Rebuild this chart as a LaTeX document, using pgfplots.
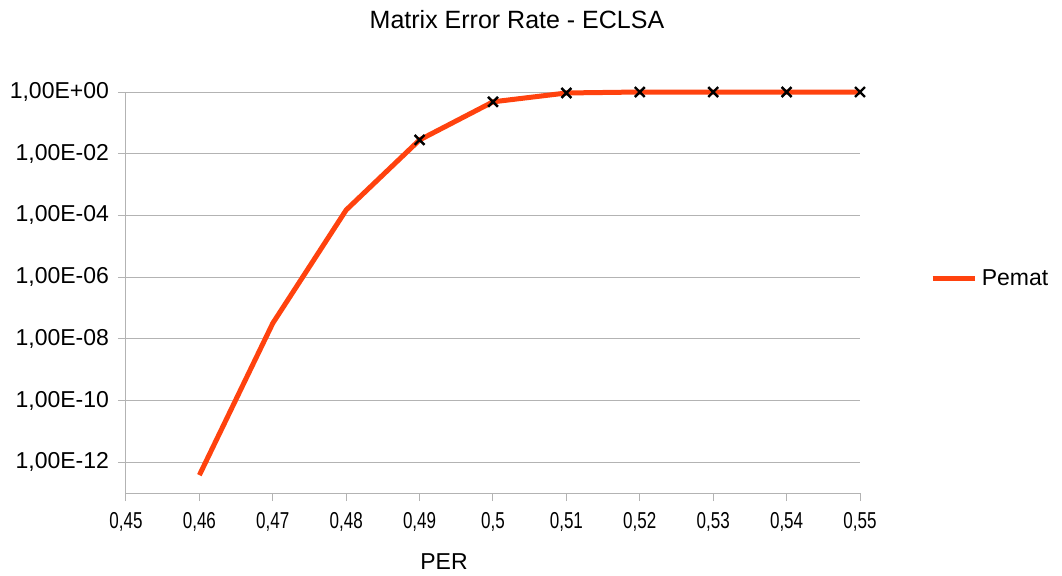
\documentclass[border=0pt]{standalone}
\usepackage{pgfplots}
\pgfplotsset{compat=1.18}
\usepackage{graphicx}
\usepackage{fontspec}
\setmainfont{Liberation Sans}
\definecolor{lineor}{HTML}{FF420E}
\definecolor{gridc}{HTML}{B3B3B3}
\begin{document}
\begin{tikzpicture}[x=0.5pt,y=0.5pt]
\useasboundingbox (0,0) rectangle (1062,575);
\begin{axis}[
  at={(126*0.5pt,82*0.5pt)}, anchor=south west,
  scale only axis, width=734*0.5pt, height=401*0.5pt,
  ymode=log, xmin=0.45, xmax=0.55, ymin=1e-13, ymax=1,
  axis lines*=left,
  axis line style={gridc, line width=0.5pt},
  every tick/.style={gridc, line width=0.5pt},
  tick align=outside, major tick length=4pt,
  minor tick num=0, log basis y=10,
  ytick={1e-12,1e-10,1e-8,1e-6,1e-4,1e-2,1},
  yticklabels={{1,00E-12},{1,00E-10},{1,00E-08},{1,00E-06},{1,00E-04},{1,00E-02},{1,00E+00}},
  xtick={0.45,0.46,0.47,0.48,0.49,0.5,0.51,0.52,0.53,0.54,0.55},
  xticklabels={{\scalebox{0.74}[1]{0,45}},{\scalebox{0.74}[1]{0,46}},{\scalebox{0.74}[1]{0,47}},{\scalebox{0.74}[1]{0,48}},{\scalebox{0.74}[1]{0,49}},{\scalebox{0.74}[1]{0,5}},{\scalebox{0.74}[1]{0,51}},{\scalebox{0.74}[1]{0,52}},{\scalebox{0.74}[1]{0,53}},{\scalebox{0.74}[1]{0,54}},{\scalebox{0.74}[1]{0,55}}},
  ticklabel style={font=\fontsize{11.5}{13}\selectfont, text=black},
  yticklabel style={xshift=-1pt},
  xticklabel style={yshift=-2pt},
  ymajorgrids, major grid style={gridc, line width=0.5pt},
  clip=false,
  legend style={at={(1.095,0.534)}, anchor=west, draw=none, fill=none,
    font=\fontsize{11.5}{13}\selectfont, inner sep=0pt,
    legend cell align=left},
  legend image code/.code={\draw[#1, line width=2.5pt] (0cm,0cm) -- (0.75cm,0cm);},
]
\addplot[lineor, line width=2.5pt, line join=round, no markers] coordinates {
  (0.46,3.8e-13) (0.47,3.2e-8) (0.48,1.5e-4) (0.49,0.028) (0.50,0.48)
  (0.51,0.93) (0.52,1) (0.53,1) (0.54,1) (0.55,1)
};
\addlegendentry{Pemat}
\addplot[only marks, mark=x, mark size=3.5pt, mark options={black, line width=1.2pt}, forget plot] coordinates {
  (0.49,0.028) (0.50,0.48) (0.51,0.93) (0.52,1) (0.53,1) (0.54,1) (0.55,1)
};
\end{axis}
\node[font=\fontsize{12.5}{14}\selectfont] at (517,555) {Matrix Error Rate - ECLSA};
\node[font=\fontsize{11.5}{13}\selectfont] at (444,13) {PER};
\end{tikzpicture}
\end{document}
